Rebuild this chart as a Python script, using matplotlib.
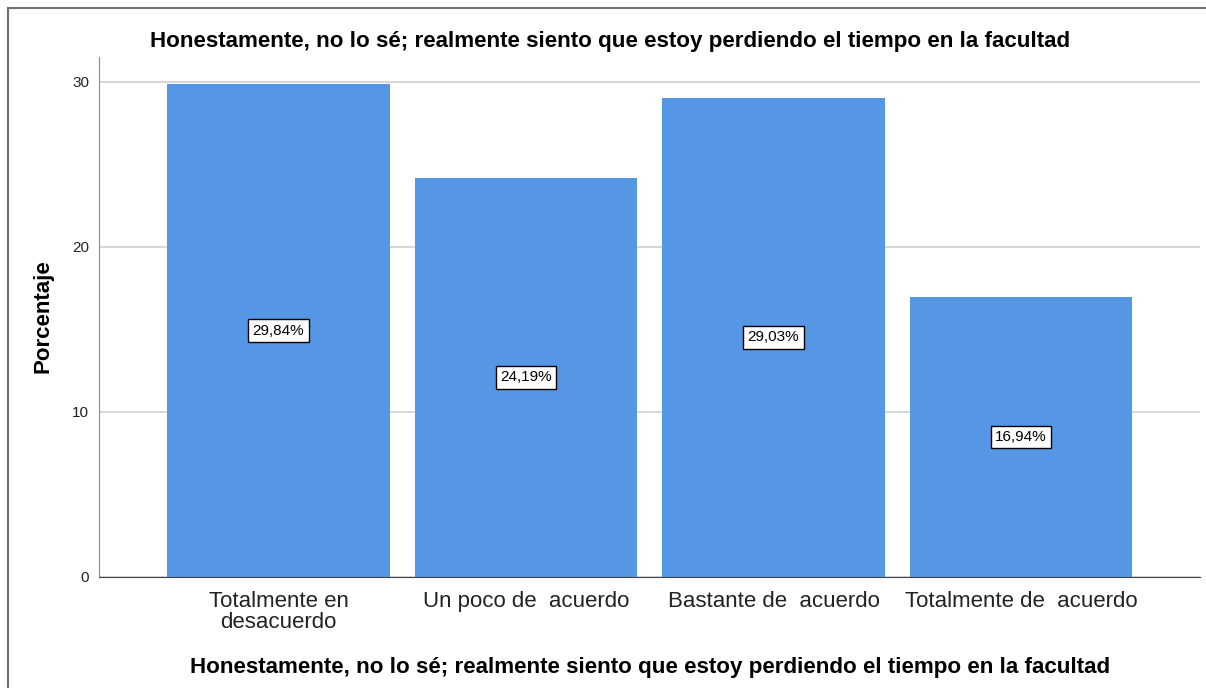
import matplotlib
matplotlib.use("Agg")
import matplotlib.pyplot as plt
from matplotlib.patches import Rectangle

categories = ["Totalmente en\ndesacuerdo", "Un poco de  acuerdo", "Bastante de  acuerdo", "Totalmente de  acuerdo"]
values = [29.84, 24.19, 29.03, 16.94]
labels = ["29,84%", "24,19%", "29,03%", "16,94%"]
yticks = [0, 10, 20, 30]
title = "Honestamente, no lo sé; realmente siento que estoy perdiendo el tiempo en la facultad"

plt.rcParams['font.family'] = ['Liberation Sans', 'DejaVu Sans']

fig = plt.figure(figsize=(12.06, 6.88), dpi=100)
W, H = 1206, 688
ax = fig.add_axes([99 / W, 1 - 577 / H, (1200 - 99) / W, (577 - 57) / H])

x = list(range(len(categories)))
ax.bar(x, values, width=0.9, color="#5596E5", zorder=2)
ax.set_xlim(-0.725, 3.723)
ax.set_ylim(0, 31.5)
ax.set_yticks(yticks)
ax.set_yticklabels([str(t) for t in yticks], fontsize=11, color="#222222")
ax.set_xticks(x)
ax.set_xticklabels(categories, fontsize=16, color="#222222", linespacing=1.0)
ax.tick_params(axis='y', length=0, pad=7)
ax.tick_params(axis='x', length=0, pad=10)
ax.yaxis.grid(True, color="#CFCFCF", linewidth=1.2, zorder=0)
ax.set_axisbelow(True)
for s in ["top", "right"]:
    ax.spines[s].set_visible(False)
ax.spines["left"].set_color("#8a8a8a")
ax.spines["bottom"].set_color("#444444")

for xi, v, lab in zip(x, values, labels):
    ax.text(xi, v / 2, lab, ha="center", va="center", fontsize=11, zorder=3,
            bbox=dict(boxstyle="square,pad=0.28", facecolor="white", edgecolor="black", linewidth=1))

fig.text(610 / W, 1 - 42 / H, title, ha="center", va="center", fontsize=16.1, fontweight="bold")
fig.text(650 / W, 1 - 667 / H, title, ha="center", va="center", fontsize=16.1, fontweight="bold")
fig.text(43 / W, 1 - 316 / H, "Porcentaje", ha="center", va="center", rotation=90, fontsize=16, fontweight="bold")

# figure frame (top and left lines visible)
fig.patches.append(Rectangle((8 / W, -0.1), 1.2, 1 - 8 / H + 0.1, transform=fig.transFigure,
                             fill=False, edgecolor="#707070", linewidth=1.5))

fig.savefig("out.png", dpi=100)
